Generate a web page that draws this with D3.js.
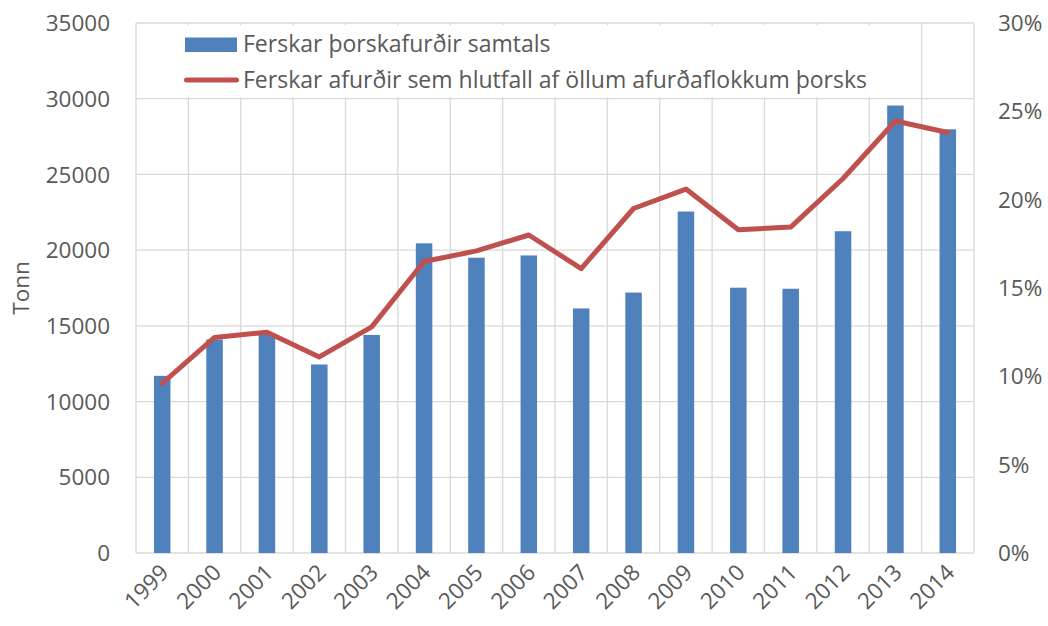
<!DOCTYPE html>
<html><head><meta charset="utf-8">
<script src="https://cdn.jsdelivr.net/npm/d3@7"></script>
<style>body{margin:0;background:#fff}svg{display:block}text{font-family:"Open Sans",sans-serif;fill:#595959}</style>
</head><body><svg id="c" width="1048" height="626"></svg>
<script>
const years = ["1999","2000","2001","2002","2003","2004","2005","2006","2007","2008","2009","2010","2011","2012","2013","2014"];
const tonnes = [11700,14100,14400,12450,14400,20450,19500,19650,16150,17200,22550,17520,17450,21250,29550,27980];
const share = [9.6,12.2,12.5,11.1,12.8,16.5,17.1,18.0,16.1,19.5,20.6,18.3,18.45,21.2,24.45,23.8];
const leftTicks = [0,5000,10000,15000,20000,25000,30000,35000];
const rightTicks = [0,5,10,15,20,25,30];
const seriesNames = ["Ferskar þorskafurðir samtals","Ferskar afurðir sem hlutfall af öllum afurðaflokkum þorsks"];
const yLabel = "Tonn";

const svg = d3.select("#c");
const L=136, R=974, T=23, B=553;
const x = d3.scaleBand().domain(years).range([L,R]).paddingInner(0.685).paddingOuter(0.3425);
const xb = d3.scaleBand().domain(years).range([L,R]);
const y = d3.scaleLinear().domain([0,35000]).range([B,T]);
const y2 = d3.scaleLinear().domain([0,30]).range([B,T]);
const grid = "#D9D9D9";

// horizontal gridlines
svg.append("g").selectAll("line").data(leftTicks).join("line")
  .attr("x1",L).attr("x2",R).attr("y1",d=>y(d)).attr("y2",d=>y(d))
  .attr("stroke",grid).attr("stroke-width",1.3);
// vertical gridlines (category boundaries)
const bounds = years.map(d=>xb(d)).concat([R]);
svg.append("g").selectAll("line").data(bounds).join("line")
  .attr("x1",d=>d).attr("x2",d=>d).attr("y1",T).attr("y2",B)
  .attr("stroke",grid).attr("stroke-width",1.3);

// bars
svg.append("g").selectAll("rect").data(tonnes).join("rect")
  .attr("x",(d,i)=>x(years[i])).attr("width",x.bandwidth())
  .attr("y",d=>y(d)).attr("height",d=>B-y(d)).attr("fill","#4F81BD");

// line
svg.append("path").datum(share)
  .attr("d",d3.line().x((d,i)=>xb(years[i])+xb.bandwidth()/2).y(d=>y2(d)))
  .attr("fill","none").attr("stroke","#C0504D").attr("stroke-width",5)
  .attr("stroke-linejoin","round").attr("stroke-linecap","round");

// legend box
svg.append("rect").attr("x",L+1.5).attr("y",25.5).attr("width",xb(years[15])-L-3).attr("height",y(30000)-27)
  .attr("fill","#fff");
svg.append("rect").attr("x",185).attr("y",37.5).attr("width",52).attr("height",14.5).attr("fill","#4F81BD");
svg.append("line").attr("x1",186.5).attr("x2",236.5).attr("y1",80).attr("y2",80)
  .attr("stroke","#C0504D").attr("stroke-width",5).attr("stroke-linecap","round");
svg.append("text").attr("x",243).attr("y",52).attr("font-size",23).text(seriesNames[0]);
svg.append("text").attr("x",243).attr("y",88).attr("font-size",23).text(seriesNames[1]);

// left axis labels
svg.append("g").selectAll("text").data(leftTicks).join("text")
  .attr("x",110).attr("y",d=>y(d)).attr("dy","0.36em").attr("text-anchor","end")
  .attr("font-size",22.5).text(d=>d);
// right axis labels
svg.append("g").selectAll("text").data(rightTicks).join("text")
  .attr("x",998).attr("y",d=>y2(d)).attr("dy","0.36em").attr("text-anchor","start")
  .attr("font-size",22.5).text(d=>d+"%");
// x labels
svg.append("g").selectAll("text").data(years).join("text")
  .attr("text-anchor","end").attr("font-size",22.5)
  .attr("transform",d=>`translate(${xb(d)+xb.bandwidth()/2+8},${574}) rotate(-45)`)
  .text(d=>d);
// y label
svg.append("text").attr("transform","translate(29,288) rotate(-90)").attr("text-anchor","middle")
  .attr("font-size",22.5).text(yLabel);
</script></body></html>
